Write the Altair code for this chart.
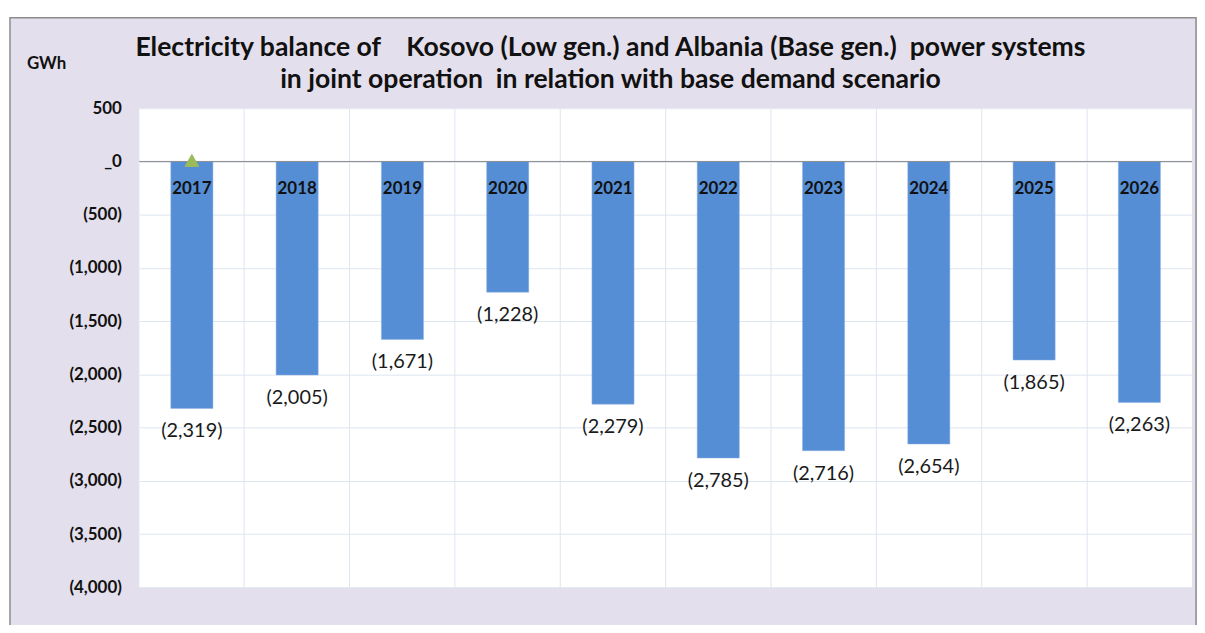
import altair as alt
import pandas as pd

years = ["2017", "2018", "2019", "2020", "2021", "2022", "2023", "2024", "2025", "2026"]
balance = [-2319, -2005, -1671, -1228, -2279, -2785, -2716, -2654, -1865, -2263]
marker_years = ["2017"]
marker_values = [0]
y_ticks = [500, 0, -500, -1000, -1500, -2000, -2500, -3000, -3500, -4000]

FONT = "Lato"
W, H = 1059, 482
NB = "\u00a0"

df = pd.DataFrame({"year": years, "value": balance})
df["label"] = ["(" + f"{abs(v):,}" + ")" for v in balance]
mk = pd.DataFrame({"year": marker_years, "value": marker_values})

xenc = alt.X("year:N", sort=years, title=None,
             scale=alt.Scale(paddingInner=0.6, paddingOuter=0.3, align=0.5),
             axis=alt.Axis(labels=False, ticks=False, domain=False, grid=True,
                           bandPosition=-0.75, gridColor="#dde5ef", gridWidth=1))
yscale = alt.Scale(domain=[-4000, 500], nice=False)
yaxis = alt.Axis(values=y_ticks, grid=True, gridColor="#dde5ef", domain=False, ticks=False,
                 labelFont=FONT, labelFontWeight="bold", labelFontSize=17, labelColor="#111111",
                 labelPadding=18,
                 labelExpr="datum.value < 0 ? '(' + format(-datum.value, ',') + ')' : (datum.value == 0 ? '_0' : format(datum.value, ','))")

bars = alt.Chart(df).mark_bar(color="#558ed5", stroke="#8fb3e3", strokeWidth=0.5).encode(
    x=xenc,
    y=alt.Y("value:Q", scale=yscale, axis=yaxis, title=None),
)

zero = alt.Chart(pd.DataFrame({"z": [0]})).mark_rule(color="#8c8c8c", strokeWidth=1).encode(
    y=alt.Y("z:Q", scale=yscale), x=alt.value(0), x2=alt.value(W)
)

year_lbl = alt.Chart(df).mark_text(font=FONT, fontWeight="bold", fontSize=17, color="#111111",
                                   baseline="middle", dy=28).encode(
    x=alt.X("year:N", sort=years), y=alt.datum(0), text="year:N"
)

val_lbl = alt.Chart(df).mark_text(font=FONT, fontSize=20, color="#1a1a1a",
                                  baseline="middle", dy=23).encode(
    x=alt.X("year:N", sort=years), y=alt.Y("value:Q"), text="label:N"
)

tri = alt.Chart(mk).mark_point(shape="triangle-up", filled=True, fill="#9bbb59", stroke="#9bbb59",
                               strokeWidth=1, size=190, opacity=1, yOffset=-1).encode(
    x=alt.X("year:N", sort=years), y=alt.Y("value:Q")
)

# frame decoration
white_top = alt.Chart(pd.DataFrame({"a": [0]})).mark_rect(color="white").encode(
    x=alt.value(-145), x2=alt.value(W + 20), y=alt.value(-110), y2=alt.value(-91))
white_left = alt.Chart(pd.DataFrame({"a": [0]})).mark_rect(color="white").encode(
    x=alt.value(-145), x2=alt.value(-130), y=alt.value(-110), y2=alt.value(H + 40))
border = alt.Chart(pd.DataFrame({"a": [0]})).mark_rect(fill=None, stroke="#8c8c8c", strokeWidth=1.5).encode(
    x=alt.value(-130), x2=alt.value(W + 4), y=alt.value(-91), y2=alt.value(H + 60))

gwh = alt.Chart(pd.DataFrame({"t": ["GWh"]})).mark_text(font=FONT, fontWeight="bold", fontSize=17,
                                                       color="#111111", align="left", baseline="middle").encode(
    x=alt.value(-113), y=alt.value(-44), text="t:N")

t1 = "Electricity balance of" + NB * 4 + "Kosovo (Low gen.) and Albania (Base gen.)" + NB * 2 + "power systems"
t2 = "in joint operation" + NB * 2 + "in relation with base demand scenario"
title1 = alt.Chart(pd.DataFrame({"t": [t1]})).mark_text(
    font=FONT, fontWeight="bold", fontSize=26.7, color="#111111", align="center", baseline="alphabetic").encode(
    x=alt.value(474), y=alt.value(-53), text="t:N")
title2 = alt.Chart(pd.DataFrame({"t": [t2]})).mark_text(
    font=FONT, fontWeight="bold", fontSize=26.7, color="#111111", align="center", baseline="alphabetic").encode(
    x=alt.value(474), y=alt.value(-20), text="t:N")

chart = alt.layer(bars, zero, year_lbl, val_lbl, tri, white_top, white_left, border, gwh, title1, title2).properties(
    width=W, height=H,
    autosize=alt.AutoSizeParams(type="none"),
    padding={"left": 132, "top": 99, "right": 5, "bottom": 36},
).configure(background="#e4dfec").configure_view(fill="white", stroke=None)

chart.save("out.html", embed_options={"renderer": "svg", "actions": False})
